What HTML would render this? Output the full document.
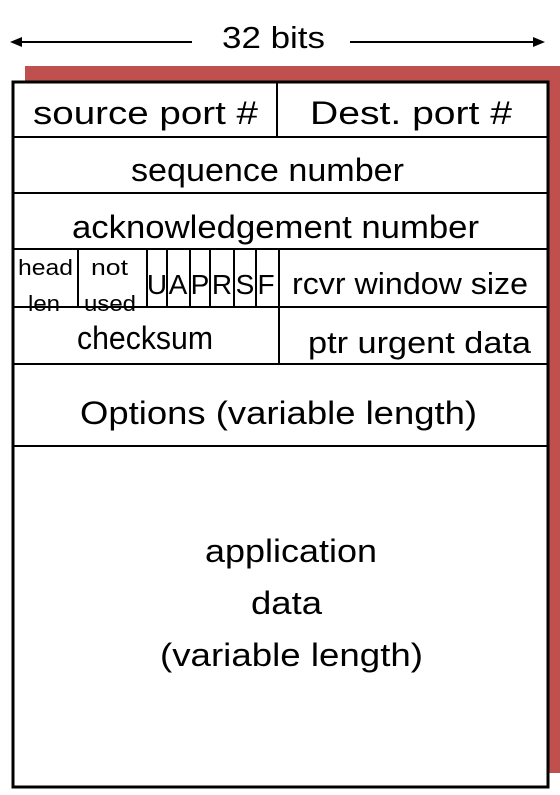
<!DOCTYPE html>
<html><head><style>
html,body{margin:0;padding:0;background:#fff;}
svg text{font-family:"Comic Sans MS","Liberation Sans",sans-serif;fill:#000;}
</style></head><body>
<svg width="560" height="790" viewBox="0 0 560 790" xmlns="http://www.w3.org/2000/svg">
<line x1="16" y1="42" x2="192" y2="42" stroke="#000" stroke-width="2"/>
<polygon points="10,42 22,37 22,47" fill="#000"/>
<line x1="350" y1="42" x2="536" y2="42" stroke="#000" stroke-width="2"/>
<polygon points="545,42 533,37 533,47" fill="#000"/>
<text x="222" y="48" font-size="31" textLength="103" lengthAdjust="spacingAndGlyphs">32 bits</text>
<rect x="25" y="66" width="535" height="707" fill="#c0504d"/>
<rect x="13" y="82" width="535" height="705" fill="#fff" stroke="#000" stroke-width="3"/>
<g stroke="#000" stroke-width="2">
<line x1="13" y1="137" x2="548" y2="137"/>
<line x1="13" y1="193" x2="548" y2="193"/>
<line x1="13" y1="249" x2="548" y2="249"/>
<line x1="13" y1="307" x2="548" y2="307"/>
<line x1="13" y1="364" x2="548" y2="364"/>
<line x1="13" y1="446" x2="548" y2="446"/>
<line x1="277" y1="82" x2="277" y2="137"/>
<line x1="279" y1="249" x2="279" y2="364"/>
<line x1="78" y1="249" x2="78" y2="307"/>
<line x1="147" y1="249" x2="147" y2="307"/>
<line x1="167" y1="249" x2="167" y2="307"/>
<line x1="190" y1="249" x2="190" y2="307"/>
<line x1="210" y1="249" x2="210" y2="307"/>
<line x1="234" y1="249" x2="234" y2="307"/>
<line x1="256" y1="249" x2="256" y2="307"/>
</g>
<text x="33" y="124" font-size="32" textLength="225" lengthAdjust="spacingAndGlyphs">source port #</text>
<text x="310" y="124" font-size="32" textLength="202" lengthAdjust="spacingAndGlyphs">Dest. port #</text>
<text x="131" y="181" font-size="32" textLength="273" lengthAdjust="spacingAndGlyphs">sequence number</text>
<text x="72" y="238" font-size="32" textLength="407" lengthAdjust="spacingAndGlyphs">acknowledgement number</text>
<text x="18" y="275" font-size="22" textLength="55" lengthAdjust="spacingAndGlyphs">head</text>
<text x="28" y="311" font-size="22" textLength="32" lengthAdjust="spacingAndGlyphs">len</text>
<text x="91" y="275" font-size="22" textLength="37" lengthAdjust="spacingAndGlyphs">not</text>
<text x="84" y="311" font-size="22" textLength="52" lengthAdjust="spacingAndGlyphs">used</text>
<text x="157" y="294" font-size="28" text-anchor="middle">U</text>
<text x="178" y="294" font-size="28" text-anchor="middle">A</text>
<text x="200" y="294" font-size="28" text-anchor="middle">P</text>
<text x="222" y="294" font-size="28" text-anchor="middle">R</text>
<text x="245" y="294" font-size="28" text-anchor="middle">S</text>
<text x="266" y="294" font-size="28" text-anchor="middle">F</text>
<text x="292" y="294" font-size="31" textLength="236" lengthAdjust="spacingAndGlyphs">rcvr window size</text>
<text x="77" y="349" font-size="32" textLength="136" lengthAdjust="spacingAndGlyphs">checksum</text>
<text x="308" y="353" font-size="31" textLength="223" lengthAdjust="spacingAndGlyphs">ptr urgent data</text>
<text x="80" y="424" font-size="32" textLength="397" lengthAdjust="spacingAndGlyphs">Options (variable length)</text>
<text x="205" y="562" font-size="32" textLength="172" lengthAdjust="spacingAndGlyphs">application</text>
<text x="251" y="614" font-size="32" textLength="71" lengthAdjust="spacingAndGlyphs">data</text>
<text x="160" y="666" font-size="32" textLength="263" lengthAdjust="spacingAndGlyphs">(variable length)</text>
</svg>
</body></html>
